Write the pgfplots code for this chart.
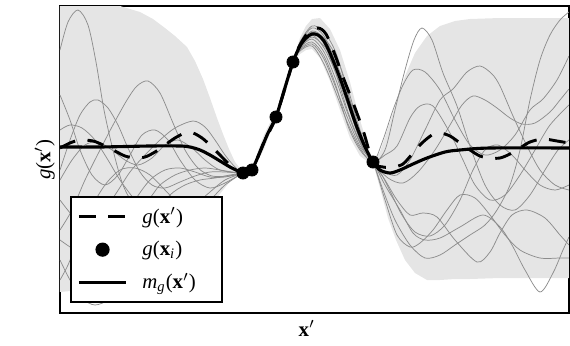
\documentclass[border=0pt]{standalone}
\usepackage{fontspec}
\setmainfont{Liberation Serif}
\usepackage{pgfplots}
\pgfplotsset{compat=1.18}
\pgfplotsset{samp/.style={smooth, tension=0.5, color=black!45, line width=0.35pt, forget plot, mark=none},
  lineleg/.style={legend image code/.code={\draw[##1] (0cm,0cm) -- (0.8cm,0cm);}},
  dotleg/.style={legend image code/.code={\draw[##1] plot coordinates {(0.4cm,0cm)};}}}
\begin{document}
\begin{tikzpicture}
\useasboundingbox (-28.8pt,-15.84pt) rectangle (244.8pt,150.24pt);
\begin{axis}[
  scale only axis, width=244.32pt, height=147.36pt,
  xmin=60, xmax=569, ymin=6, ymax=313, y dir=reverse,
  xtick=\empty, ytick=\empty,
  axis line style={line width=1pt},
  xlabel={\textbf{x}$'$}, ylabel={\textit{g}(\textbf{x}$'$)},
  xlabel style={at={(axis description cs:0.485,-0.05)}, anchor=center},
  ylabel style={at={(axis description cs:-0.03,0.5)}, anchor=center},
  legend style={at={(axis description cs:0.0196,0.381)}, anchor=north west, draw=black, line width=1pt, fill=white, row sep=3pt, inner xsep=3pt, inner ysep=3pt, nodes={inner sep=2pt}},
  legend cell align=left,
]
% band
\addplot[fill=black!10, draw=none, forget plot] coordinates {
(60,0) (80,0) (100,2) (120,6) (140,12) (153,19) (165,28) (175,36) (187,47) (195,61) (203,79) (210,98) (217,118) (223,134) (229,149) (235,162) (243,172) (248,169) (252,169) (258,151) (264,135) (270,123) (276,115) (282,91) (288,72) (293,61) (300,38) (306,26) (312,19) (320,18) (330,29) (340,50) (350,82) (360,120) (367,143) (373,161) (380,152) (388,128) (396,104) (405,76) (415,53) (427,36) (440,26) (455,21) (470,19) (500,18) (569,18)
(569,278) (500,278) (470,279) (455,279) (440,280) (427,280) (415,273) (405,260) (396,240) (388,218) (380,188) (373,163) (367,161) (360,156) (350,138) (340,110) (330,81) (320,58) (312,49) (306,50) (300,54) (293,63) (288,82) (282,101) (276,117) (270,133) (264,149) (258,161) (252,171) (248,175) (243,174) (235,178) (229,183) (223,190) (217,198) (210,210) (203,223) (195,235) (187,247) (175,256) (165,264) (153,273) (140,280) (120,285) (100,287) (80,290) (60,292)
};
% samples
\addplot[samp] coordinates {(60,50) (68,22) (78,10) (88,25) (96,62) (104,110) (113,150) (123,185) (135,205) (148,200) (160,185) (175,175) (190,170) (205,168) (220,170) (232,172) (243,173) (252,170) (264,144) (276,117) (288,78) (293,62) (300,48) (312,39) (324,52) (336,80) (348,114) (360,143) (373,162) (385,150) (395,110) (405,70) (414,40) (422,28) (432,40) (443,73) (457,106) (470,146) (485,185) (500,205) (515,210) (530,195) (545,170) (558,150) (569,140)};
\addplot[samp] coordinates {(60,230) (72,210) (85,180) (100,150) (113,125) (127,100) (137,86) (148,81) (160,93) (173,123) (185,150) (198,168) (212,176) (228,176) (243,173) (252,170) (264,140) (276,117) (288,76) (293,62) (300,44) (312,31) (324,38) (336,56) (348,89) (360,130) (373,162) (385,172) (397,175) (410,160) (425,130) (440,100) (453,89) (467,72) (480,66) (492,74) (500,86) (513,116) (527,146) (540,170) (555,185) (569,190)};
\addplot[samp] coordinates {(60,170) (70,140) (80,115) (90,102) (98,100) (108,108) (118,125) (128,148) (140,172) (152,185) (165,188) (180,182) (195,176) (210,172) (225,172) (243,173) (252,170) (264,143) (276,117) (288,77) (293,62) (300,50) (312,44) (324,59) (336,88) (348,119) (360,146) (373,162) (385,185) (400,210) (413,233) (425,240) (440,238) (460,227) (483,215) (500,227) (512,245) (525,270) (540,292) (553,273) (563,250) (569,237)};
\addplot[samp] coordinates {(60,200) (72,215) (85,225) (100,215) (115,195) (130,172) (145,155) (160,140) (175,128) (193,121) (205,127) (215,140) (225,155) (235,167) (243,173) (252,170) (264,141) (276,117) (288,78) (293,62) (300,43) (312,28) (324,36) (336,64) (348,104) (360,140) (373,162) (383,190) (395,220) (410,245) (425,258) (440,255) (455,245) (470,235) (485,225) (497,210) (510,185) (520,150) (530,100) (540,60) (550,35) (560,20) (569,12)};
\addplot[samp] coordinates {(60,95) (70,120) (80,150) (92,175) (105,185) (118,175) (130,155) (142,135) (155,130) (168,140) (180,160) (195,180) (210,188) (225,183) (243,173) (252,170) (264,142) (276,117) (288,76) (293,62) (300,47) (312,37) (324,46) (336,63) (348,94) (360,132) (373,162) (385,180) (397,200) (410,215) (423,213) (437,217) (455,240) (477,262) (490,252) (500,233) (512,215) (527,210) (545,218) (560,235) (569,245)};
\addplot[samp] coordinates {(60,260) (70,280) (82,298) (95,305) (110,298) (125,275) (140,245) (155,215) (170,195) (185,185) (200,180) (215,178) (230,175) (243,173) (252,170) (264,143) (276,117) (288,77) (293,62) (300,49) (312,42) (324,56) (336,86) (348,126) (360,150) (373,162) (385,155) (397,146) (410,118) (420,106) (433,106) (450,133) (463,160) (475,185) (490,200) (505,195) (520,175) (535,150) (550,125) (569,105)};
\addplot[samp] coordinates {(60,130) (70,125) (82,128) (95,140) (108,160) (120,180) (135,200) (150,215) (165,222) (180,218) (195,205) (210,192) (225,180) (243,173) (252,170) (264,141) (276,117) (288,78) (293,62) (300,44) (312,32) (324,44) (336,74) (348,112) (360,142) (373,162) (388,178) (403,183) (418,172) (435,150) (450,125) (462,105) (473,96) (485,100) (497,108) (510,118) (522,124) (535,123) (550,112) (560,100) (569,89)};
\addplot[samp] coordinates {(60,180) (72,160) (85,145) (98,142) (112,150) (125,160) (138,165) (152,158) (165,145) (178,140) (192,148) (205,160) (220,170) (243,173) (252,170) (264,144) (276,117) (288,77) (293,62) (300,46) (312,35) (324,48) (336,73) (348,106) (360,138) (373,162) (385,200) (397,235) (410,247) (420,243) (433,230) (447,210) (460,195) (475,198) (490,215) (505,235) (520,250) (540,258) (560,258) (569,258)};
\addplot[samp] coordinates {(60,280) (68,265) (78,240) (90,210) (105,185) (120,170) (135,168) (150,175) (165,190) (180,205) (195,210) (210,200) (225,185) (243,173) (252,170) (264,142) (276,117) (288,77) (293,62) (300,51) (312,46) (324,64) (336,93) (348,124) (360,148) (373,162) (383,140) (393,110) (403,85) (413,70) (425,72) (440,90) (455,120) (470,145) (485,155) (500,150) (515,135) (530,110) (543,99) (557,80) (569,56)};
\addplot[samp] coordinates {(60,240) (75,250) (90,255) (105,245) (120,225) (135,200) (150,180) (165,170) (180,168) (195,172) (210,177) (225,177) (243,173) (252,170) (264,140) (276,117) (288,76) (293,62) (300,42) (312,26) (324,32) (336,53) (348,94) (360,134) (373,162) (382,175) (392,195) (402,215) (415,232) (430,236) (445,225) (460,200) (473,170) (485,150) (498,145) (512,155) (525,170) (540,185) (555,190) (569,185)};
% true function
\addplot[smooth, tension=0.5, black, line width=1.4pt, dash pattern=on 8pt off 6pt, mark=none, lineleg] coordinates {
(60,148) (70,143) (80,140) (93,141) (103,145) (115,151) (125,156) (135,158) (145,157) (155,152) (165,145) (175,138) (185,133) (193,133) (202,138) (210,145) (220,155) (230,165) (243,173) (252,170) (264,142) (276,117) (293,62) (300,45) (308,33) (318,28) (326,34) (335,55) (343,77) (352,100) (363,130) (373,162) (383,167) (393,167) (403,164) (413,153) (422,143) (432,135) (440,133) (450,136) (460,143) (470,150) (480,156) (490,158) (500,158) (510,154) (520,148) (530,142) (543,139) (557,141) (569,143)};
\addlegendentry{\makebox[38pt][l]{\hspace*{5pt}\textit{g}(\textbf{x}$'$)}}
% observations
\addplot[only marks, mark=*, mark size=2.9pt, black, dotleg] coordinates {
(243,173) (252,170) (276,117) (293,62) (373,162)};
\addlegendentry{\makebox[38pt][l]{\hspace*{5pt}\textit{g}(\textbf{x}\textsubscript{\textit{i}})}}
% mean
\addplot[smooth, tension=0.5, black, line width=1.5pt, mark=none, lineleg] coordinates {
(60,147) (100,147) (150,146) (180,146) (190,147) (200,150) (210,155) (220,161) (230,167) (238,171) (243,173) (248,172) (252,170) (260,152) (268,133) (276,117) (284,91) (293,62) (300,46) (306,38) (312,34) (318,35) (324,41) (330,53) (340,78) (347,98) (355,122) (362,140) (367,151) (373,162) (380,170) (390,173) (400,170) (413,164) (427,158) (445,152) (460,150) (490,148) (569,148)};
\addlegendentry{\makebox[38pt][l]{\hspace*{5pt}\textit{m}\textsubscript{\textit{g}}(\textbf{x}$'$)}}
\end{axis}
\end{tikzpicture}
\end{document}
